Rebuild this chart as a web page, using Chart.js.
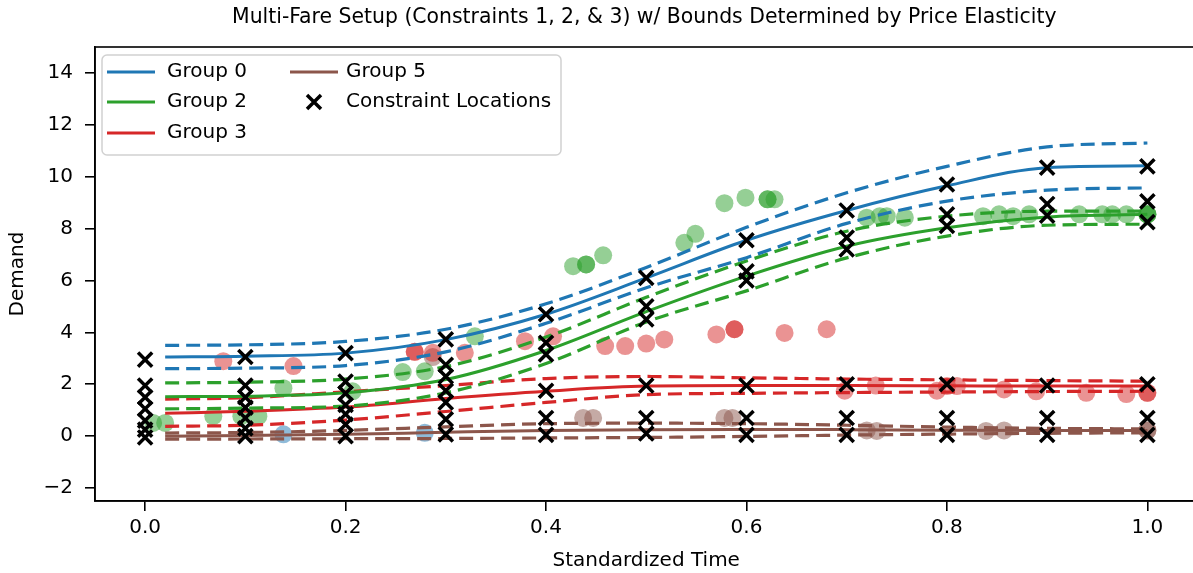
<!DOCTYPE html>
<html>
<head>
<meta charset="utf-8">
<script src="https://cdn.jsdelivr.net/npm/chart.js@4.4.1/dist/chart.umd.min.js"></script>
<style>
  html, body { margin: 0; padding: 0; background: #fff; overflow: hidden; }
  canvas { display: block; }
</style>
</head>
<body>
<canvas id="demandChart" width="1211" height="573"></canvas>
<script>
// time grid the fitted curves are sampled on
const curveX = [0.02, 0.1, 0.2, 0.3, 0.4, 0.5, 0.6, 0.7, 0.8, 0.9, 1.0];

const group0Mean  = [3.05, 3.08, 3.2, 3.72, 4.7, 6.1, 7.55, 8.7, 9.65, 10.35, 10.42];
const group0Upper = [3.5, 3.52, 3.65, 4.12, 5.1, 6.5, 8.05, 9.38, 10.4, 11.15, 11.3];
const group0Lower = [2.6, 2.62, 2.72, 3.25, 4.35, 5.72, 6.88, 8.2, 9.06, 9.48, 9.57];

const group2Mean  = [1.52, 1.54, 1.67, 2.18, 3.3, 4.8, 6.17, 7.32, 8.03, 8.45, 8.55];
const group2Upper = [2.05, 2.08, 2.2, 2.68, 3.82, 5.35, 6.75, 7.9, 8.48, 8.67, 8.67];
const group2Lower = [1.05, 1.08, 1.16, 1.67, 2.8, 4.4, 5.6, 6.87, 7.71, 8.13, 8.17];

const group3Mean  = [0.88, 0.96, 1.12, 1.45, 1.73, 1.93, 1.95, 1.95, 1.94, 1.93, 1.93];
const group3Upper = [1.43, 1.48, 1.71, 1.95, 2.22, 2.3, 2.25, 2.2, 2.17, 2.14, 2.12];
const group3Lower = [0.38, 0.42, 0.62, 0.95, 1.3, 1.6, 1.65, 1.68, 1.7, 1.72, 1.73];

const group5Mean  = [0.0, 0.02, 0.07, 0.15, 0.22, 0.25, 0.26, 0.25, 0.23, 0.22, 0.22];
const group5Upper = [0.12, 0.14, 0.22, 0.36, 0.48, 0.5, 0.48, 0.42, 0.35, 0.3, 0.28];
const group5Lower = [-0.12, -0.11, -0.1, -0.09, -0.07, -0.05, -0.01, 0.04, 0.08, 0.11, 0.13];

// observed demand
const group0ObsX = [0.138, 0.279];
const group0ObsY = [0.07, 0.13];

const group2ObsX = [0.008, 0.02, 0.068, 0.096, 0.113, 0.138, 0.207, 0.257, 0.279, 0.329,
  0.427, 0.44, 0.44, 0.457, 0.538, 0.549, 0.578, 0.599, 0.621, 0.621, 0.628,
  0.72, 0.733, 0.74, 0.758, 0.836, 0.852, 0.866, 0.882, 0.932, 0.955, 0.965, 0.979, 1.0, 1.0, 1.0];
const group2ObsY = [0.51, 0.51, 0.77, 0.77, 0.77, 1.85, 1.73, 2.47, 2.5, 3.85,
  6.55, 6.62, 6.62, 6.97, 7.45, 7.8, 8.98, 9.19, 9.13, 9.13, 9.13,
  8.42, 8.48, 8.48, 8.42, 8.48, 8.55, 8.48, 8.55, 8.55, 8.55, 8.55, 8.55, 8.55, 8.55, 8.55];

const group3ObsX = [0.078, 0.148, 0.269, 0.269, 0.287, 0.319, 0.379, 0.407, 0.459, 0.479, 0.5, 0.518,
  0.57, 0.588, 0.588, 0.638, 0.68, 0.698, 0.729, 0.79, 0.8, 0.81, 0.857, 0.889, 0.939, 0.979, 1.0, 1.0];
const group3ObsY = [2.89, 2.7, 3.25, 3.25, 3.21, 3.21, 3.66, 3.85, 3.47, 3.47, 3.57, 3.73,
  3.92, 4.12, 4.12, 3.98, 4.12, 1.75, 1.95, 1.75, 1.93, 1.93, 1.8, 1.73, 1.67, 1.62, 1.67, 1.67];

const group5ObsX = [0.287, 0.437, 0.447, 0.578, 0.586, 0.72, 0.73, 0.839, 0.857, 1.0, 1.0];
const group5ObsY = [3.05, 0.7, 0.7, 0.7, 0.7, 0.22, 0.2, 0.2, 0.22, 0.22, 0.22];

// constraint locations, one column of demand levels per time
const constraintTimes = [0.0, 0.1, 0.2, 0.3, 0.4, 0.5, 0.6, 0.7, 0.8, 0.9, 1.0];
const constraintLevels = [
  [2.95, 1.95, 1.5, 1.05, 0.6, 0.25, -0.05],
  [3.05, 1.95, 1.5, 1.1, 0.7, 0.3, 0.0],
  [3.2, 2.1, 1.65, 1.2, 0.85, 0.45, 0.0],
  [3.73, 2.75, 2.3, 1.75, 1.3, 0.65, 0.07],
  [4.7, 3.6, 3.15, 1.75, 0.7, 0.05],
  [6.1, 5.0, 4.5, 1.95, 0.7, 0.1],
  [7.55, 6.35, 6.0, 1.95, 0.7, 0.05],
  [8.7, 7.65, 7.2, 2.0, 0.7, 0.05],
  [9.7, 8.55, 8.1, 2.0, 0.7, 0.05],
  [10.35, 8.95, 8.5, 1.95, 0.7, 0.05],
  [10.4, 9.05, 8.25, 2.0, 0.7, 0.05]
];

const xTicks = [0.0, 0.2, 0.4, 0.6, 0.8, 1.0];
const yTicks = [-2, 0, 2, 4, 6, 8, 10, 12, 14];

const groupNames = ['Group 0', 'Group 2', 'Group 3', 'Group 5'];
const groupColors = ['#1f77b4', '#2ca02c', '#d62728', '#8c564b'];
const groupCurves = [
  [group0Mean, group0Upper, group0Lower],
  [group2Mean, group2Upper, group2Lower],
  [group3Mean, group3Upper, group3Lower],
  [group5Mean, group5Upper, group5Lower]
];
const groupObs = [
  [group0ObsX, group0ObsY],
  [group2ObsX, group2ObsY],
  [group3ObsX, group3ObsY],
  [group5ObsX, group5ObsY]
];

const FONT = "'DejaVu Sans', 'Liberation Sans', sans-serif";

function toPoints(xs, ys) {
  return xs.map((x, i) => ({ x: x, y: ys[i] }));
}

function withAlpha(hex, a) {
  const n = parseInt(hex.slice(1), 16);
  return `rgba(${(n >> 16) & 255}, ${(n >> 8) & 255}, ${n & 255}, ${a})`;
}

const datasets = [];

// constraint markers sit on top of everything
const constraintPoints = [];
constraintTimes.forEach((t, i) => {
  constraintLevels[i].forEach(v => constraintPoints.push({ x: t, y: v }));
});
datasets.push({
  label: 'Constraint Locations',
  data: constraintPoints,
  showLine: false,
  pointStyle: 'crossRot',
  pointRadius: 10,
  pointBorderWidth: 3.5,
  borderColor: '#000',
  backgroundColor: '#000',
  order: 0
});

groupNames.forEach((name, g) => {
  const color = groupColors[g];
  const [mean, upper, lower] = groupCurves[g];
  datasets.push({
    label: name,
    data: toPoints(curveX, mean),
    showLine: true,
    borderColor: color,
    borderWidth: 3,
    pointRadius: 0,
    cubicInterpolationMode: 'monotone',
    order: 1
  });
  [upper, lower].forEach(bound => {
    datasets.push({
      label: name + ' bound',
      data: toPoints(curveX, bound),
      showLine: true,
      borderColor: color,
      borderWidth: 3.2,
      borderDash: [14, 7],
      pointRadius: 0,
      cubicInterpolationMode: 'monotone',
      order: 1
    });
  });
  datasets.push({
    label: name + ' observed',
    data: toPoints(groupObs[g][0], groupObs[g][1]),
    showLine: false,
    pointRadius: 9,
    pointBorderWidth: 0,
    backgroundColor: withAlpha(color, 0.5),
    borderColor: withAlpha(color, 0.5),
    order: 2
  });
});

// title, top/right spines and the two-column legend
const framePlugin = {
  id: 'frame',
  afterDraw(chart) {
    const { ctx, chartArea } = chart;
    ctx.save();
    ctx.strokeStyle = '#000';
    ctx.lineWidth = 1.6;
    ctx.strokeRect(chartArea.left, chartArea.top, chartArea.right - chartArea.left, chartArea.bottom - chartArea.top);

    ctx.fillStyle = '#000';
    ctx.font = '20.4px ' + FONT;
    ctx.textAlign = 'center';
    ctx.textBaseline = 'middle';
    ctx.fillText('Multi-Fare Setup (Constraints 1, 2, & 3) w/ Bounds Determined by Price Elasticity',
      (chartArea.left + chartArea.right) / 2 - 2, 18);

    ctx.font = '20px ' + FONT;
    const lx = chartArea.left + 7, ly = chartArea.top + 8, lw = 459, lh = 100;
    ctx.beginPath();
    ctx.roundRect(lx, ly, lw, lh, 5);
    ctx.fillStyle = 'rgba(255,255,255,0.8)';
    ctx.fill();
    ctx.strokeStyle = 'rgba(204,204,204,0.9)';
    ctx.lineWidth = 1.5;
    ctx.stroke();

    const rows = [ly + 17, ly + 47, ly + 78];
    const entries = [
      { col: 0, row: 0, color: groupColors[0], text: groupNames[0] },
      { col: 0, row: 1, color: groupColors[1], text: groupNames[1] },
      { col: 0, row: 2, color: groupColors[2], text: groupNames[2] },
      { col: 1, row: 0, color: groupColors[3], text: groupNames[3] },
      { col: 1, row: 1, marker: true, text: 'Constraint Locations' }
    ];
    ctx.textAlign = 'left';
    entries.forEach(e => {
      const x0 = lx + (e.col === 0 ? 5 : 188);
      const y = rows[e.row];
      if (e.marker) {
        const cx = x0 + 24, r = 7;
        ctx.strokeStyle = '#000';
        ctx.lineWidth = 3.5;
        ctx.beginPath();
        ctx.moveTo(cx - r, y - r); ctx.lineTo(cx + r, y + r);
        ctx.moveTo(cx - r, y + r); ctx.lineTo(cx + r, y - r);
        ctx.stroke();
      } else {
        ctx.strokeStyle = e.color;
        ctx.lineWidth = 3;
        ctx.beginPath();
        ctx.moveTo(x0, y); ctx.lineTo(x0 + 48, y);
        ctx.stroke();
      }
      ctx.fillStyle = '#000';
      ctx.fillText(e.text, x0 + (e.col === 0 ? 60 : 56), y);
    });
    ctx.restore();
  }
};

Chart.defaults.font.family = FONT;
Chart.defaults.font.size = 20;
Chart.defaults.color = '#000';

new Chart(document.getElementById('demandChart'), {
  type: 'scatter',
  data: { datasets: datasets },
  plugins: [framePlugin],
  options: {
    responsive: false,
    animation: false,
    devicePixelRatio: 1,
    layout: { padding: { top: 47, right: 2, left: 0, bottom: 0 } },
    plugins: {
      legend: { display: false },
      tooltip: { enabled: false },
      title: { display: false }
    },
    scales: {
      x: {
        type: 'linear',
        min: -0.05,
        max: 1.05,
        afterBuildTicks: s => { s.ticks = xTicks.map(v => ({ value: v })); },
        afterFit: s => { s.height = 72; },
        ticks: { padding: 5, callback: v => v.toFixed(1), maxRotation: 0 },
        grid: { drawOnChartArea: false, drawTicks: true, tickLength: 10, color: '#000', lineWidth: 1.6 },
        border: { display: true, color: '#000', width: 1.6 },
        title: { display: true, text: 'Standardized Time', padding: { top: 0, bottom: 0 } }
      },
      y: {
        type: 'linear',
        min: -2.5,
        max: 15,
        afterBuildTicks: s => { s.ticks = yTicks.map(v => ({ value: v })); },
        afterFit: s => { s.width = 95; },
        ticks: { padding: 12, callback: v => (v < 0 ? '\u2212' + Math.abs(v) : String(v)) },
        grid: { drawOnChartArea: false, drawTicks: true, tickLength: 10, color: '#000', lineWidth: 1.6 },
        border: { display: true, color: '#000', width: 1.6 },
        title: { display: true, text: 'Demand', padding: { top: 6, bottom: 0 } }
      }
    }
  }
});
</script>
</body>
</html>
